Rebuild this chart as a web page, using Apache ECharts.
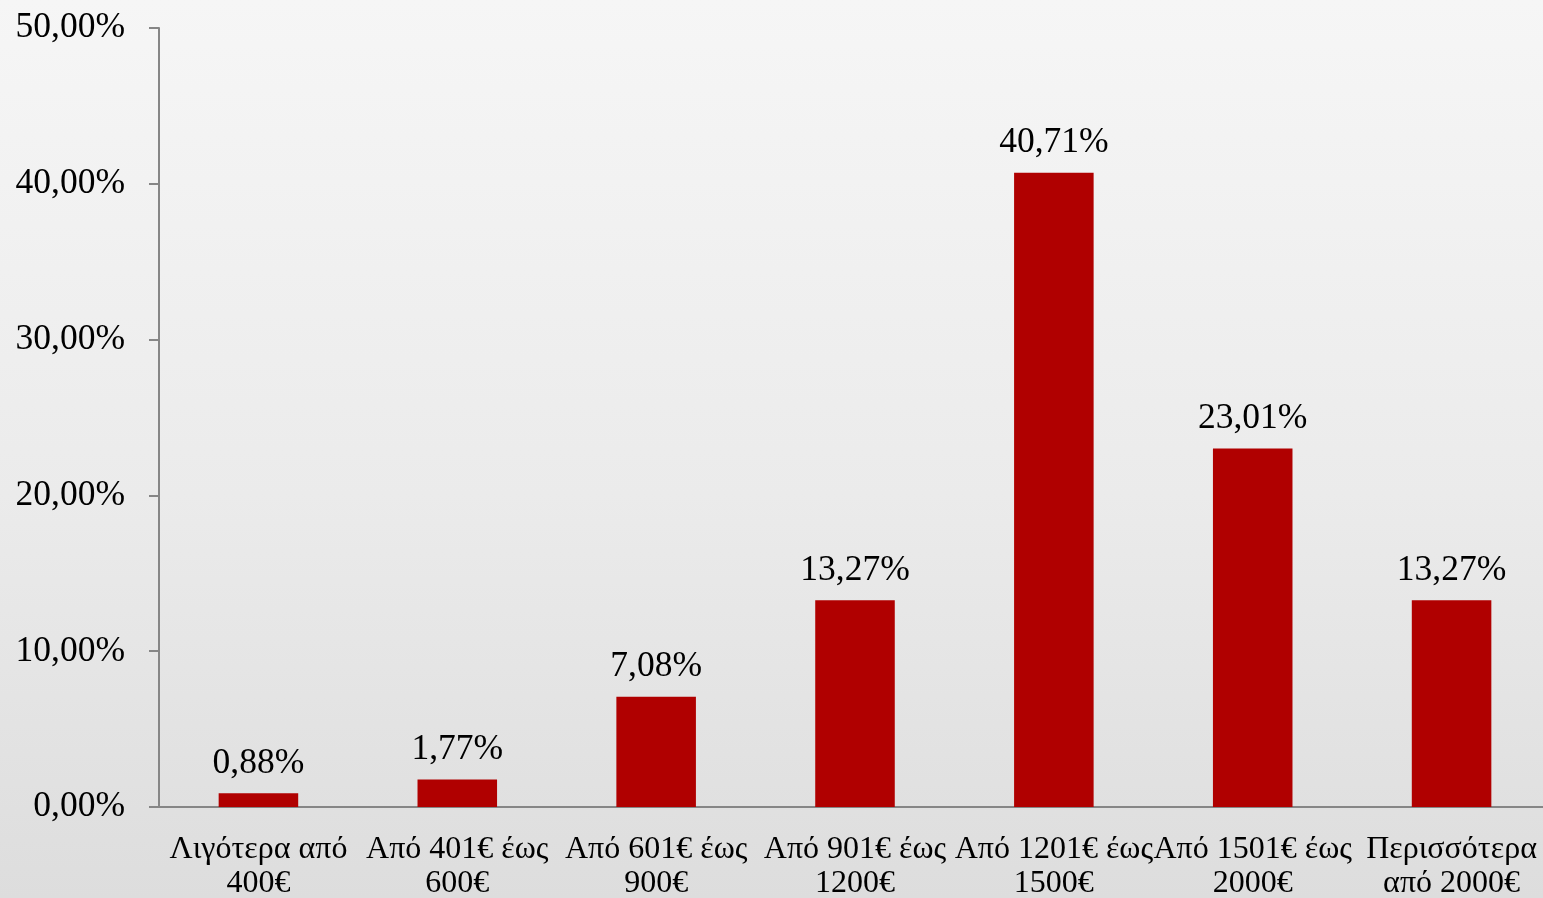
<!DOCTYPE html>
<html>
<head>
<meta charset="utf-8">
<script src="https://cdn.jsdelivr.net/npm/echarts@6/dist/echarts.min.js"></script>
<style>
html,body{margin:0;padding:0;width:1543px;height:898px;overflow:hidden;}
#c{width:1543px;height:898px;background:linear-gradient(180deg,#f6f6f6 0%,#ebebeb 55%,#dddddd 100%);}
</style>
</head>
<body>
<div id="c"></div>
<script>
var categories = ["Λιγότερα από\n400€", "Από 401€ έως\n600€", "Από 601€ έως\n900€", "Από 901€ έως\n1200€", "Από 1201€ έως\n1500€", "Από 1501€ έως\n2000€", "Περισσότερα\nαπό 2000€"];
var values = [0.88, 1.77, 7.08, 13.27, 40.71, 23.01, 13.27];
var yTicks = [0, 10, 20, 30, 40, 50];

function fmt(v){ return v.toFixed(2).replace('.', ',') + '%'; }

var chart = echarts.init(document.getElementById('c'));
var font = '"Liberation Serif", "Times New Roman", serif';
chart.setOption({
  backgroundColor: 'transparent',
  animation: false,
  grid: {left: 159, right: -8, top: 28, bottom: 91, containLabel: false, outerBoundsMode: 'none'},
  xAxis: {
    type: 'category',
    data: categories,
    axisLine: {lineStyle: {color: '#868686', width: 2}},
    axisTick: {length: 9, lineStyle: {color: '#868686', width: 2}},
    axisLabel: {color: '#000', fontFamily: font, fontSize: 32, lineHeight: 34, margin: 26, interval: 0}
  },
  yAxis: {
    type: 'value',
    min: yTicks[0], max: yTicks[yTicks.length-1], interval: 10,
    splitLine: {show: false},
    axisLine: {show: true, lineStyle: {color: '#868686', width: 2}},
    axisTick: {show: true, length: 10, lineStyle: {color: '#868686', width: 2}},
    axisLabel: {color: '#000', fontFamily: font, fontSize: 35.5, margin: 34, formatter: function(v){ return fmt(v); }}
  },
  series: [{
    type: 'bar',
    data: values,
    barWidth: '40%',
    itemStyle: {color: '#B00000'},
    label: {show: true, position: 'top', distance: 12, color: '#000', fontFamily: font, fontSize: 35.5, formatter: function(p){ return fmt(p.value); }}
  }]
});
</script>
</body>
</html>
